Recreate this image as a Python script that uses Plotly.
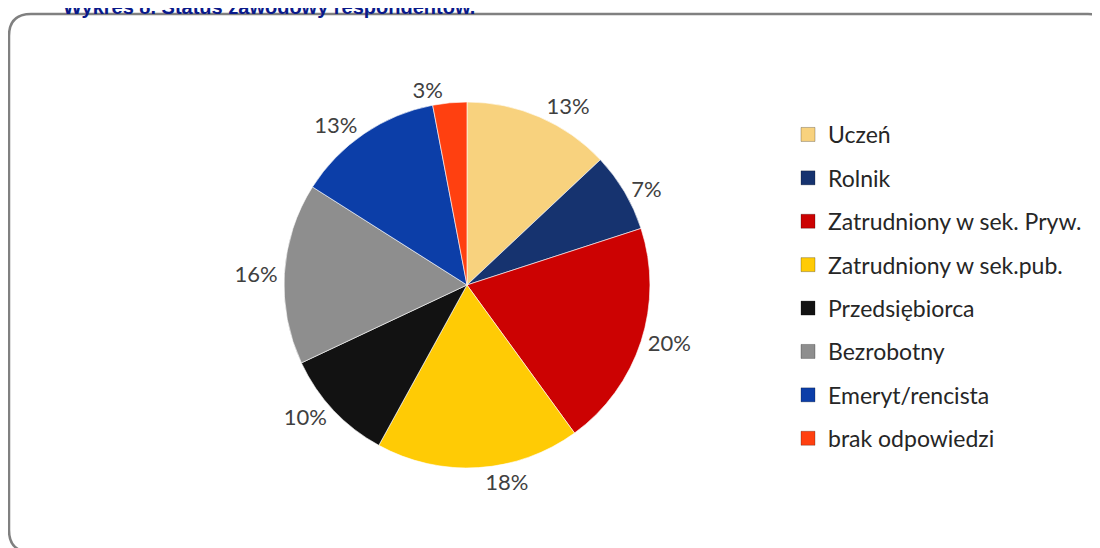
import plotly.graph_objects as go

categories = ["Uczeń", "Rolnik", "Zatrudniony w sek. Pryw.", "Zatrudniony w sek.pub.",
              "Przedsiębiorca", "Bezrobotny", "Emeryt/rencista", "brak odpowiedzi"]
values = [13, 7, 20, 18, 10, 16, 13, 3]
colors = ["#F8D27E", "#16336F", "#CC0202", "#FFCB05", "#121212", "#8E8E8E", "#0C3EA8", "#FF4010"]
title_text = "Wykres 8. Status zawodowy respondentów."

W, H = 1100, 548

fig = go.Figure()
fig.add_trace(go.Pie(
    labels=categories, values=values, sort=False, direction="clockwise", rotation=0,
    marker=dict(colors=colors, line=dict(color="rgba(255,255,255,0.6)", width=1)),
    texttemplate="%{percent:.0%}", textposition="outside",
    outsidetextfont=dict(family="Lato", size=22, color="#404040"),
    showlegend=False, hoverinfo="label+percent",
    domain=dict(x=[0.2509, 0.5836], y=[0.1606, 0.8285]),
))

for i, (cat, col) in enumerate(zip(categories, colors)):
    fig.add_trace(go.Scatter(
        x=[None], y=[None], mode="markers", name=cat, legendgroup=f"g{i}",
        marker=dict(symbol="square", size=14, color=col, line=dict(color="rgba(0,0,0,0.25)", width=1)),
        showlegend=True,
    ))

rx, ry = 22 / W, 22 / H
x0, x1 = 1 / W, 1102 / W
y0, y1 = 1 - 544 / H, 1 - 6 / H
path = (f"M{x0+rx},{y1} L{x1-rx},{y1} Q{x1},{y1} {x1},{y1-ry} "
        f"L{x1},{y0+ry} Q{x1},{y0} {x1-rx},{y0} L{x0+rx},{y0} Q{x0},{y0} {x0},{y0+ry} "
        f"L{x0},{y1-ry} Q{x0},{y1} {x0+rx},{y1} Z")

fig.update_layout(
    width=W, height=H,
    margin=dict(l=0, r=0, t=0, b=0),
    paper_bgcolor="white", plot_bgcolor="white",
    xaxis=dict(visible=False), yaxis=dict(visible=False),
    shapes=[dict(type="path", xref="paper", yref="paper", path=path,
                 line=dict(color="#808080", width=2.5), fillcolor="rgba(0,0,0,0)", layer="below")],
    annotations=[dict(text=f"<b>{title_text}</b>", x=53 / W, y=1 + 1 / H, xref="paper", yref="paper",
                      xanchor="left", yanchor="middle", showarrow=False,
                      font=dict(family="Liberation Sans", size=20, color="#0A1A8A"))],
    legend=dict(x=780 / W, y=1 - 105 / H, xanchor="left", yanchor="top",
                font=dict(family="Lato", size=23, color="#262626"),
                tracegroupgap=10.5, bgcolor="rgba(0,0,0,0)"),
)

fig.write_html("out.html")
